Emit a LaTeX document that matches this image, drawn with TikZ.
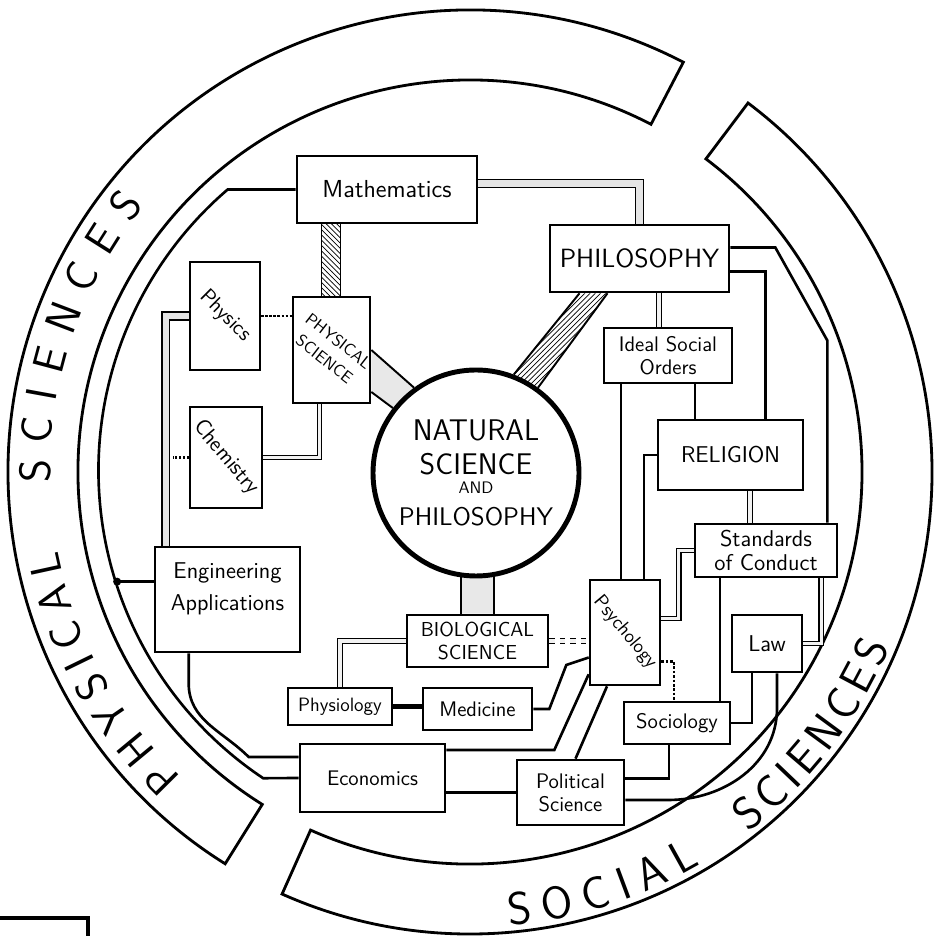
\documentclass[tikz,border=0pt]{standalone}
\usepackage{fontspec}
\usetikzlibrary{calc, patterns, backgrounds, decorations.text}

\def\pxu{0.02cm}

\begin{document}
\begin{tikzpicture}[
    x=0.02cm, y=0.02cm,
    box/.style={draw, line width=1.5pt, inner sep=0pt, align=center, font=\sffamily},
    sz/.style 2 args={minimum width=#1*\pxu, minimum height=#2*\pxu},
    fs/.style 2 args={font=\sffamily\fontsize{#1}{#2}\selectfont},
    hub/.style={draw, circle, line width=2.8pt, inner sep=0pt, minimum size=206*\pxu},
    wire/.style={line width=1.5pt},
    side/.style={line width=1.1pt},
    pipe/.style={line width=0.9pt, double=gray!20, double distance=3.5pt},
    thinpipe/.style={line width=0.8pt, double=gray!10, double distance=1.8pt},
    band/.style={draw, line width=1.6pt},
    stipple/.style={fill=gray!18},
    hatchNE/.style={pattern=north east lines},
    hatchNW/.style={pattern=north west lines},
    bandtext/.style 2 args={decorate, decoration={text along path, text align={fit to path},
        text={|\sffamily\fontsize{#1}{#1}\selectfont|#2}}}
]
\useasboundingbox (0,0) rectangle (937,936);
\coordinate (O) at (470,464);
\coordinate (arcc) at (470,465.6);

% the two outer bands
\draw[band] ([shift={(62.5:462)}]O) arc[start angle=62.5, end angle=238, radius=462]
  -- ([shift={(238:392)}]O) arc[start angle=238, end angle=62.5, radius=392] -- cycle;
\draw[band] ([shift={(53:462)}]O) arc[start angle=53, end angle=-114, radius=462]
  -- ([shift={(-114:392)}]O) arc[start angle=-114, end angle=53, radius=392] -- cycle;
\path[bandtext={25}{PHYSICAL}] ([shift={(226.6:420)}]O) arc[start angle=226.6, end angle=190.8, radius=420];
\path[bandtext={25}{SCIENCES}] ([shift={(181.5:420)}]O) arc[start angle=181.5, end angle=140.7, radius=420];
\path[bandtext={26}{SOCIAL}] ([shift={(-85:455)}]O) arc[start angle=-85, end angle=-59.5, radius=455];
\path[bandtext={26}{SCIENCES}] ([shift={(-52.3:455)}]O) arc[start angle=-52.3, end angle=-22.6, radius=455];

% centre
\node[hub, label={[align=center, font=\sffamily]center:{\fontsize{17}{19}\selectfont NATURAL}\\[6pt]{\fontsize{17}{19}\selectfont SCIENCE}\\[-1pt]{\fontsize{9.5}{11}\selectfont AND}\\[6pt]{\fontsize{14.5}{17}\selectfont PHILOSOPHY}}] (nat) at (476,463) {};

% physical side
\node[box, sz={180}{67}, fs={14}{16}] (math) at (387,746.5) {Mathematics};
\node[box, sz={70}{108}, label={[fs={12}{14}, rotate=-45]center:Physics}] (physics) at (225,620) {};
\node[box, sz={77}{106}, label={[fs={9.5}{13}, rotate=-38, align=center]center:PHYSICAL\\SCIENCE}] (physsci) at (331.5,586) {};
\node[box, sz={72}{101}, label={[fs={12.5}{14}, rotate=-50]center:Chemistry}] (chem) at (226,478.5) {};
\node[box, sz={145}{105}, label={[fs={13}{18}, align=center, yshift=6pt]center:Engineering\\Applications}] (eng) at (227.5,336.5) {};
\node[box, sz={145}{68}, fs={12}{14}] (econ) at (372.5,158) {Economics};

% biology
\node[box, sz={141}{52}, fs={11.5}{13}] (bio) at (477.5,295) {BIOLOGICAL\\SCIENCE};
\node[box, sz={104}{37}, fs={11}{13}] (physio) at (340,229.5) {Physiology};
\node[box, sz={109}{42}, fs={12}{14}] (med) at (477.5,227) {Medicine};

% social side
\node[box, sz={179}{67}, fs={15}{18}] (phil) at (639.5,677.5) {PHILOSOPHY};
\node[box, sz={128}{55}, fs={12}{13}] (ideal) at (668,580.5) {Ideal Social\\Orders};
\node[box, sz={145}{70}, fs={13}{15}] (relig) at (730.5,481) {RELIGION};
\node[box, sz={142}{53}, fs={13}{14}] (stand) at (766,385.5) {Standards\\of Conduct};
\node[box, sz={70}{105}, label={[fs={11}{13}, rotate=-50]center:Psychology}] (psych) at (625,303.5) {};
\node[box, sz={70}{57}, fs={13}{15}] (law) at (767,292.5) {Law};
\node[box, sz={106}{42}, fs={12}{14}] (socio) at (677,213) {Sociology};
\node[box, sz={107}{65}, fs={12}{13}] (polsci) at (570.5,143.5) {Political\\Science};

% wide channels
\coordinate (h1) at ($(physsci.north)+(-10,0)$);
\coordinate (h2) at ($(physsci.north)+(9,0)$);
\begin{scope}[on background layer]
  \fill[hatchNW] (h1) rectangle (h2 |- math.south);
  \fill[hatchNE] ($(phil.south)+(-60,0)$) -- ($(phil.south)+(-32,0)$) -- (nat.54) -- (nat.69) -- cycle;
  \fill[stipple] (physsci.east) -- ($(physsci.east)+(0,-42)$) -- (nat.142) -- (nat.126) -- cycle;
  \fill[stipple] (nat.262) -- (nat.280) -- (nat.280 |- bio.north) -- (nat.262 |- bio.north) -- cycle;
\end{scope}
\draw[side] (h1) -- (h1 |- math.south) (h2) -- (h2 |- math.south);
\draw[side] ($(phil.south)+(-60,0)$) -- (nat.69) ($(phil.south)+(-32,0)$) -- (nat.54);
\draw[side] (physsci.east) -- (nat.126) ($(physsci.east)+(0,-42)$) -- (nat.142);
\draw[side] (nat.262) -- (nat.262 |- bio.north) (nat.280) -- (nat.280 |- bio.north);

% pipes
\draw[pipe] ($(math.east)+(0,6)$) -| (phil.north);
\draw[pipe] (physics.west) -| ($(eng.north west)+(12,0)$);
\draw[thinpipe] (chem.east) -| ($(physsci.south)+(-12,0)$);
\draw[densely dotted, line width=1.3pt] (physics.east) -- (physics.east -| physsci.west);
\draw[densely dotted, line width=1.2pt] (chem.west) -- ++(-16,0);
\coordinate (p0) at ($(ideal.north)+(-9,0)$);
\draw[thinpipe] (p0) -- (p0 |- phil.south);
\coordinate (s1) at ($(stand.north)+(-16,0)$);
\draw[thinpipe] (s1) -- (s1 |- relig.south);
\draw[thinpipe] (stand.west) -- ++(-15,0) |- ($(psych.east)+(0,14)$);
\draw[thinpipe] ($(stand.south east)+(-17,0)$) |- (law.east);
\draw[thinpipe, dashed] (bio.east) -- (bio.east -| psych.west);
\draw[thinpipe] (bio.west) -| (physio.north);
\draw[line width=3pt] (physio.east) -- (physio.east -| med.west);

% plain lines
\draw[wire] (math.west) -- ++(-68,0) arc[start angle=130.6, end angle=236.3, radius=370] -- (econ.west);
\coordinate (j1) at ($(arcc)+(197.5:370)$);
\draw[wire] (eng.west |- j1) -- (j1);
\fill (j1) circle (4);
\draw[wire] ($(eng.south west)+(35,0)$) -- ++(0,-30) to[out=-90, in=135] ($(econ.west)+(-50,21)$) -- ($(econ.west)+(0,21)$);
\draw[wire] ($(phil.east)+(0,11)$) -- ++(45,0) -- ++(52,-93) -- ($(stand.north east)+(-11,0)$);
\draw[wire] ($(phil.east)+(0,-13)$) -| ($(relig.north east)+(-39,0)$);
\coordinate (i1) at ($(ideal.south)+(27,0)$);
\draw[wire] (i1) -- (i1 |- relig.north);
\coordinate (p1) at ($(psych.north)+(-4,0)$);
\draw[wire] (p1) -- (p1 |- ideal.south);
\draw[wire] (relig.west) -| ($(psych.north)+(19,0)$);
\coordinate (s2) at ($(stand.south)+(-46,0)$);
\draw[wire] (s2) -- (s2 |- socio.north);
\draw[wire] ($(law.south)+(-15,0)$) |- (socio.east);
\draw[wire] ($(law.south)+(10,0)$) -- ++(0,-35) to[out=-90, in=0] ($(polsci.east)+(43,-7.5)$) -- ($(polsci.east)+(0,-7.5)$);
\draw[wire] ($(socio.south)+(-8,0)$) |- ($(polsci.east)+(0,14)$);
\draw[wire, densely dotted] ($(psych.east)+(0,-29)$) -| ($(socio.north)+(-3,0)$);
\draw[wire] (med.east) -- ++(16,0) -- ++(17,44) -- ($(psych.west)+(0,-25)$);
\draw[wire] ($(econ.east)+(0,28)$) -- ++(108,0) -- ($(psych.south west)+(0,12)$);
\draw[wire] (polsci.west) -- (polsci.west -| econ.east);
\draw[wire] ($(psych.south)+(-18,0)$) -- ($(polsci.north)+(5,0)$);

% corner mark
\draw[line width=2.5pt] (0,18) -| (88,0);
\end{tikzpicture}
\end{document}
